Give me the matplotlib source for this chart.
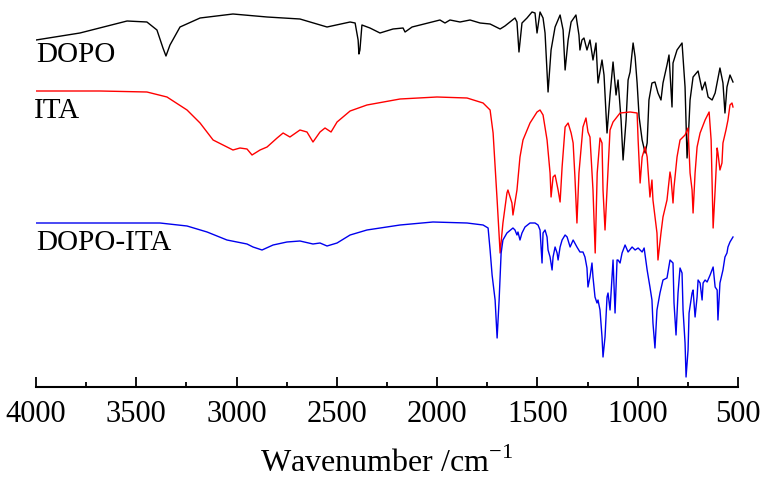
import matplotlib
matplotlib.use("Agg")
import matplotlib.pyplot as plt
from matplotlib.ticker import MultipleLocator

# FTIR spectra, stacked (transmittance, a.u. with offsets already in the values)
dopo_wn = [4000, 3781, 3546, 3447, 3397, 3367, 3352, 3332, 3282, 3182, 3018, 2848, 2684, 2549,
           2434, 2409, 2394, 2390, 2385, 2375, 2335, 2285, 2220, 2170, 2160, 2125, 2085, 1986,
           1961, 1936, 1886, 1836, 1786, 1736, 1686, 1662, 1637, 1612, 1602, 1592, 1577, 1552,
           1527, 1512, 1502, 1487, 1472, 1462, 1447, 1432, 1412, 1387, 1372, 1362, 1347, 1332,
           1308, 1293, 1288, 1278, 1268, 1253, 1238, 1223, 1208, 1198, 1178, 1168, 1153, 1138,
           1123, 1108, 1098, 1083, 1073, 1058, 1048, 1038, 1023, 1013, 1003, 993, 978, 963,
           953, 944, 929, 914, 899, 884, 874, 854, 844, 829, 824, 804, 779, 764, 754, 749,
           739, 724, 699, 679, 664, 649, 629, 614, 590, 575, 565, 555, 540, 525]
dopo_t = [347, 354, 366, 365, 357, 339, 331, 342, 360, 369, 373, 370, 368, 360,
          365, 364, 347, 333, 337, 362, 359, 354, 358, 359, 355, 360, 362, 367,
          364, 367, 365, 367, 364, 363, 358, 361, 365, 369, 365, 335, 364, 369,
          375, 374, 354, 375, 369, 354, 295, 337, 360, 372, 357, 317, 347, 365,
          372, 352, 337, 347, 349, 337, 347, 327, 344, 304, 327, 312, 254, 292,
          325, 292, 307, 267, 227, 267, 307, 315, 344, 330, 304, 270, 247, 234,
          244, 287, 304, 305, 294, 287, 304, 322, 332, 280, 324, 337, 344, 300, 229, 244,
          287, 310, 316, 297, 305, 290, 287, 294, 319, 304, 274, 300, 312, 305]

ita_wn = [4000, 3681, 3447, 3347, 3247, 3182, 3117, 3018, 2983, 2948, 2923, 2883, 2848, 2798,
          2768, 2734, 2684, 2649, 2619, 2584, 2559, 2529, 2499, 2434, 2350, 2185, 2001, 1851,
          1771, 1736, 1721, 1701, 1686, 1672, 1652, 1647, 1627, 1622, 1602, 1587, 1572, 1537,
          1502, 1487, 1472, 1452, 1437, 1432, 1422, 1412, 1397, 1387, 1377, 1362, 1347, 1332,
          1322, 1313, 1303, 1293, 1273, 1258, 1248, 1238, 1223, 1212, 1202, 1188, 1178, 1173,
          1163, 1153, 1138, 1123, 1088, 1038, 1003, 998, 988, 978, 963, 953, 939, 929, 924,
          904, 899, 884, 874, 854, 839, 834, 824, 819, 804, 789, 764, 749, 739, 729, 724,
          714, 704, 689, 664, 644, 634, 624, 614, 604, 600, 590, 580, 575, 560, 550, 540,
          530, 525]
ita_t = [296, 296, 295, 290, 277, 264, 247, 237, 239, 238, 232, 237, 240, 249,
         254, 250, 257, 255, 245, 255, 259, 255, 265, 276, 282, 288, 290, 289,
         284, 277, 254, 187, 134, 164, 194, 197, 184, 172, 197, 230, 247, 264,
         275, 277, 272, 247, 214, 190, 210, 212, 197, 185, 220, 260, 264, 254,
         244, 210, 164, 214, 260, 269, 255, 250, 197, 134, 214, 249, 244, 197,
         157, 197, 257, 265, 274, 275, 274, 247, 204, 230, 240, 230, 190, 207, 187,
         154, 127, 154, 170, 187, 215, 209, 184, 200, 230, 247, 252, 259, 214, 197, 174,
         214, 240, 254, 267, 275, 247, 159, 197, 239, 234, 217, 224, 244, 257, 267, 282,
         284, 280]

dopoita_wn = [4000, 3681, 3382, 3247, 3147, 3048, 2948, 2918, 2873, 2818, 2749, 2684, 2619, 2584,
              2549, 2499, 2434, 2350, 2185, 2021, 1851, 1771, 1746, 1736, 1726, 1711, 1701, 1691,
              1681, 1672, 1652, 1622, 1612, 1602, 1597, 1587, 1577, 1562, 1537, 1512, 1497, 1487,
              1477, 1472, 1462, 1452, 1447, 1437, 1427, 1422, 1412, 1402, 1397, 1387, 1377, 1362,
              1352, 1337, 1322, 1303, 1288, 1273, 1263, 1253, 1248, 1238, 1228, 1223, 1213, 1203,
              1198, 1188, 1178, 1173, 1163, 1153, 1148, 1138, 1128, 1123, 1113, 1103, 1098, 1088,
              1078, 1063, 1048, 1028, 1013, 998, 978, 968, 953, 939, 929, 924, 914, 904, 889,
              874, 854, 839, 824, 819, 809, 799, 789, 779, 774, 764, 759, 749, 744, 729, 724,
              714, 704, 699, 689, 679, 674, 664, 654, 639, 624, 614, 604, 600, 590, 575, 565,
              555, 550, 540, 525]
dopoita_t = [164, 164, 164, 161, 155, 147, 143, 140, 137, 142, 145, 146, 143, 144,
             141, 144, 152, 157, 162, 165, 164, 162, 159, 137, 112, 87, 49, 87,
             134, 147, 154, 159, 157, 152, 155, 147, 154, 160, 164, 164, 162, 157,
             124, 154, 157, 150, 137, 130, 117, 130, 140, 134, 127, 140, 147, 152,
             150, 140, 147, 140, 135, 135, 130, 119, 100, 110, 124, 110, 90, 84,
             87, 77, 50, 30, 50, 90, 94, 77, 110, 127, 74, 127, 127, 124,
             134, 142, 135, 140, 137, 139, 135, 139, 117, 100, 87, 64, 39, 77, 94,
             107, 109, 127, 124, 84, 52, 94, 119, 114, 77, 44, 10, 37, 74, 94, 97,
             70, 90, 107, 104, 87, 104, 107, 105, 112, 120, 100, 97, 67, 104, 117, 130,
             134, 140, 145, 150]

labels = ["DOPO", "ITA", "DOPO-ITA"]
label_pos = [(4000, 325), (4010, 269), (4000, 137)]

plt.rcParams['font.family'] = ['Liberation Serif', 'DejaVu Serif']

fig = plt.figure(figsize=(7.7, 4.9), dpi=100)
ax = fig.add_axes([36 / 770, 103 / 490, 702 / 770, 387 / 490])

ax.plot(dopo_wn, dopo_t, color='black', lw=1.0)
ax.plot(ita_wn, ita_t, color='#ff0000', lw=1.0)
ax.plot(dopoita_wn, dopoita_t, color='#0000ee', lw=1.0)

for name, (x, y) in zip(labels, label_pos):
    ax.text(x, y, name, fontsize=21, ha='left', va='baseline')

ax.set_xlim(4000, 500)
ax.set_ylim(0, 387)
ax.xaxis.set_major_locator(MultipleLocator(500))
ax.xaxis.set_minor_locator(MultipleLocator(250))
ax.tick_params(axis='x', which='major', direction='in', length=7.5, width=1.3, labelsize=22, pad=9)
ax.tick_params(axis='x', which='minor', direction='in', length=3.8, width=1.3)
ax.set_yticks([])
for s in ['left', 'right', 'top']:
    ax.spines[s].set_visible(False)
ax.spines['bottom'].set_linewidth(1.5)
ax.set_xlabel('Wavenumber /cm$^{\\mathregular{-1}}$', fontsize=23, labelpad=14)

fig.savefig('out.png', dpi=100)
